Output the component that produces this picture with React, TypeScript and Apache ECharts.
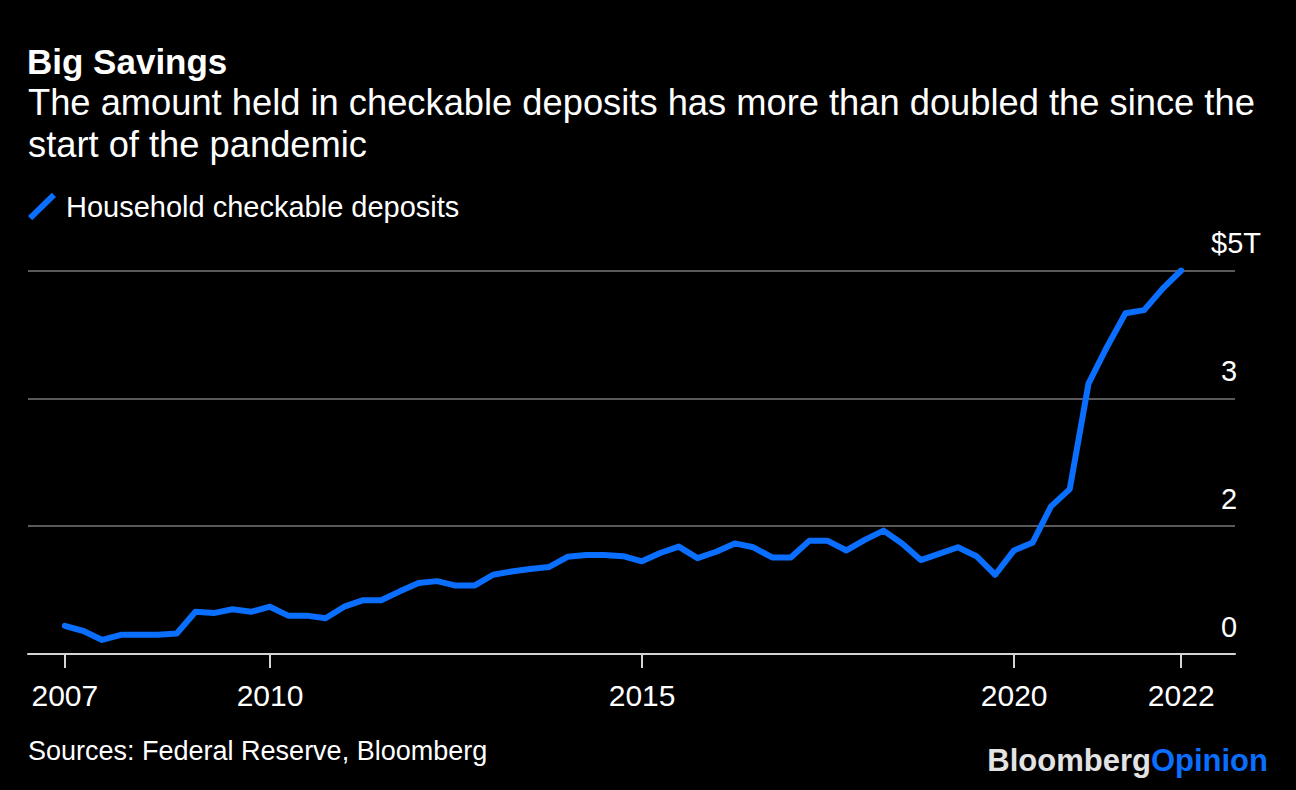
import React, { useEffect, useRef } from "react";
import * as echarts from "echarts";

// Quarter-end dates, 2007 Q1 through 2022 Q1
const quarterEnds = ["03-31", "06-30", "09-30", "12-31"];
const startYear = 2007;
const endYear = 2022;
const endQuarterCount = 1;

// Household checkable deposits, in the chart's gridline units (gridlines labelled 0, 2, 3, $5T)
const deposits = [
  0.22, 0.18, 0.11, 0.15, 0.15, 0.15, 0.16, 0.33, 0.32, 0.35, 0.33, 0.37,
  0.30, 0.30, 0.28, 0.37, 0.42, 0.42, 0.49, 0.555, 0.57, 0.535, 0.535, 0.62,
  0.645, 0.665, 0.68, 0.76, 0.775, 0.775, 0.765, 0.725, 0.79, 0.84, 0.75, 0.80,
  0.865, 0.835, 0.755, 0.755, 0.885, 0.885, 0.81, 0.895, 0.965, 0.865, 0.735, 0.785,
  0.835, 0.765, 0.62, 0.81, 0.87, 1.155, 1.29, 2.115, 2.40, 2.665, 2.69, 2.86, 3.0,
];

const yTickLabels = ["0", "2", "3", "$5T"];
const xTickDates = ["2007-03-31", "2010-01-01", "2015-01-01", "2020-01-01", "2022-03-31"];
const xMin = "2006-10-01";
const xMax = "2022-12-20";

const title = "Big Savings";
const subtitle =
  "The amount held in checkable deposits has more than doubled the since the\nstart of the pandemic";
const seriesName = "Household checkable deposits";
const source = "Sources: Federal Reserve, Bloomberg";

const FONT = "'Liberation Sans', Arial, Helvetica, sans-serif";
const BLUE = "#0a6eff";

function ts(d: string) {
  const [y, m, day] = d.split("-").map(Number);
  return Date.UTC(y, m - 1, day);
}

function buildDates(): string[] {
  const out: string[] = [];
  for (let y = startYear; y <= endYear; y++) {
    for (let q = 0; q < 4; q++) {
      if (y === endYear && q >= endQuarterCount) break;
      out.push(`${y}-${quarterEnds[q]}`);
    }
  }
  return out;
}

export default function App() {
  const ref = useRef<HTMLDivElement>(null);

  useEffect(() => {
    if (!ref.current) return;
    const chart = echarts.init(ref.current, undefined, { renderer: "svg" });
    const dates = buildDates();
    const data = dates.map((d, i) => [ts(d), deposits[i]]);
    const tickValues = xTickDates.map(ts);
    const lastIdx = yTickLabels.length - 1;

    chart.setOption({
      animation: false,
      backgroundColor: "#000000",
      textStyle: { fontFamily: FONT },
      title: [
        {
          text: title,
          left: 27,
          top: 44,
          padding: 0,
          textStyle: { color: "#ffffff", fontSize: 35, fontWeight: "bold", fontFamily: FONT },
        },
        {
          text: subtitle,
          left: 28,
          top: 81,
          padding: 0,
          textStyle: {
            color: "#ffffff",
            fontSize: 36.3,
            fontWeight: "normal",
            lineHeight: 42,
            fontFamily: FONT,
          },
        },
      ],
      legend: {
        left: 28,
        top: 192,
        padding: 0,
        itemWidth: 28,
        itemHeight: 28,
        icon: "path://M0,23.4 L24,0 L28.2,4.2 L4.2,27.6 Z",
        itemStyle: { color: BLUE },
        textStyle: { color: "#ffffff", fontSize: 29, fontFamily: FONT, padding: [0, 0, 0, 5] },
        data: [seriesName],
      },
      grid: { left: 28, right: 61, top: 270.5, bottom: 136, containLabel: false },
      xAxis: {
        type: "value",
        min: ts(xMin),
        max: ts(xMax),
        axisLine: { show: true, lineStyle: { color: "#d4d4d4", width: 2 } },
        axisTick: {
          show: true,
          length: 14,
          lineStyle: { color: "#d4d4d4", width: 2 },
          customValues: tickValues,
        },
        axisLabel: {
          color: "#ffffff",
          fontSize: 30,
          fontFamily: FONT,
          margin: 26,
          customValues: tickValues,
          formatter: (v: number) => String(new Date(v).getUTCFullYear()),
        },
        splitLine: { show: false },
      },
      yAxis: {
        type: "value",
        position: "right",
        min: 0,
        max: 3,
        interval: 1,
        axisLine: { show: false },
        axisTick: { show: false },
        splitLine: { show: true, lineStyle: { color: "#5a5a5a", width: 2 } },
        axisLabel: {
          color: "#ffffff",
          fontSize: 29,
          fontFamily: FONT,
          align: "center",
          verticalAlign: "bottom",
          lineHeight: 55,
          margin: -6,
          formatter: (v: number) => {
            const i = Math.round(v);
            const s = yTickLabels[i] ?? "";
            return i === lastIdx ? `{u|${s}}` : s;
          },
          rich: {
            u: {
              color: "#ffffff",
              fontSize: 29,
              fontFamily: FONT,
              lineHeight: 55,
              verticalAlign: "middle",
              padding: [0, 0, 0, 14],
            },
          },
        },
      },
      series: [
        {
          name: seriesName,
          type: "line",
          data,
          showSymbol: false,
          symbol: "none",
          lineStyle: { color: BLUE, width: 6, cap: "round", join: "round" },
          itemStyle: { color: BLUE },
          z: 5,
        },
      ],
      graphic: [
        {
          type: "text",
          left: 28,
          top: 737,
          style: { text: source, fill: "#ffffff", font: `27px ${FONT}` },
        },
        {
          type: "text",
          right: 28,
          top: 745,
          style: {
            text: "{a|Bloomberg}{b|Opinion}",
            rich: {
              a: { fill: "#e3e3e3", fontWeight: "bold", fontSize: 31, fontFamily: FONT },
              b: { fill: BLUE, fontWeight: "bold", fontSize: 31, fontFamily: FONT },
            },
          },
        },
      ],
    });

    return () => chart.dispose();
  }, []);

  return (
    <div
      ref={ref}
      style={{ position: "fixed", left: 0, top: 0, width: 1296, height: 790, background: "#000" }}
    />
  );
}
